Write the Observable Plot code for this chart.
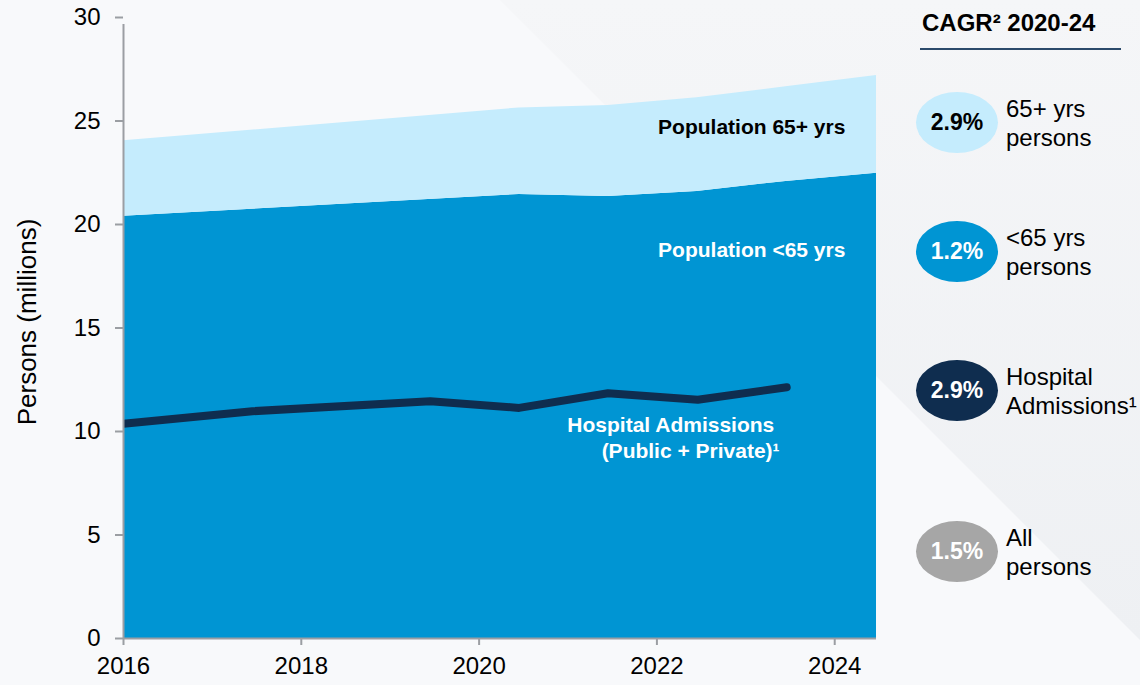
<!DOCTYPE html>
<html>
<head>
<meta charset="utf-8">
<script src="https://cdn.jsdelivr.net/npm/d3@7"></script>
<script src="https://cdn.jsdelivr.net/npm/@observablehq/plot@0.6"></script>
<style>
  html, body { margin: 0; padding: 0; }
  body { width: 1140px; height: 685px; overflow: hidden; background: #f8f9fb;
         font-family: "Liberation Sans", Arial, sans-serif; }
  #wrap { position: relative; width: 1140px; height: 685px; }
  #bg, #chart { position: absolute; left: 0; top: 0; }
  #panel-title { position: absolute; left: 922px; top: 9px; font-size: 24px; font-weight: bold; color: #000; white-space: nowrap; }
  #panel-rule { position: absolute; left: 920px; top: 48px; width: 201px; height: 2px; background: #2b4a6b; }
  .item { position: absolute; left: 916px; height: 61px; display: flex; align-items: center; }
  .ell { width: 82px; height: 61px; border-radius: 50%; display: flex; align-items: center; justify-content: center;
         font-size: 23px; font-weight: bold; }
  .lab { margin-left: 8px; font-size: 24px; line-height: 29px; color: #000; white-space: nowrap; }
</style>
</head>
<body>
<div id="wrap">
  <svg id="bg" width="1140" height="685">
    <defs>
      <linearGradient id="g" x1="0" y1="0" x2="0" y2="640" gradientUnits="userSpaceOnUse">
        <stop offset="0" stop-color="#f5f6f8"/>
        <stop offset="1" stop-color="#eef0f3"/>
      </linearGradient>
    </defs>
    <polygon points="500,0 1140,0 1140,640" fill="url(#g)"/>
  </svg>
  <div id="chart"></div>
  <div id="panel-title">CAGR² 2020-24</div>
  <div id="panel-rule"></div>
  <div id="panel"></div>
</div>
<script>
// ---- data ----
const areaYears  = [2016, 2020.45, 2021.45, 2022.45, 2023.45, 2024.47];
const popUnder65 = [20.4, 21.45, 21.35, 21.6, 22.08, 22.48];
const pop65Plus  = [3.64, 4.18, 4.4, 4.52, 4.57, 4.72];

const hospYears  = [2016, 2017.45, 2019.45, 2020.45, 2021.45, 2022.46, 2023.46];
const hospAdmits = [10.37, 10.98, 11.46, 11.14, 11.85, 11.53, 12.14];

const xTicks = [2016, 2018, 2020, 2022, 2024];
const yTicks = [0, 5, 10, 15, 20, 25, 30];

const cagrValues = ["2.9%", "1.2%", "2.9%", "1.5%"];
const cagrLabels = [["65+ yrs", "persons"], ["<65 yrs", "persons"], ["Hospital", "Admissions¹"], ["All", "persons"]];

// ---- styles ----
const blue = "#0095d3", light = "#c5ecfd", navy = "#0f2d4f", grey = "#a6a6a6", axisGrey = "#9b9ea3";
const cagrFill = [light, blue, navy, grey];
const cagrText = ["#000", "#fff", "#fff", "#fff"];
const cagrTop = [92, 221, 360, 521];

const rows = [];
areaYears.forEach((yr, i) => rows.push({year: yr, group: "<65", value: popUnder65[i]}));
areaYears.forEach((yr, i) => rows.push({year: yr, group: "65+", value: pop65Plus[i]}));
const hospRows = hospYears.map((yr, i) => ({year: yr, value: hospAdmits[i]}));

const chart = Plot.plot({
  width: 1140, height: 685,
  marginLeft: 123, marginRight: 264, marginTop: 17, marginBottom: 47,
  x: {domain: [2016, 2024.47], axis: null},
  y: {domain: [0, 30], axis: null},
  color: {domain: ["<65", "65+"], range: [blue, light]},
  style: {background: "transparent", fontFamily: "'Liberation Sans', Arial, sans-serif", fontSize: "24px", color: "#000", overflow: "visible"},
  marks: [
    Plot.areaY(rows, {x: "year", y: "value", fill: "group"}),
    Plot.line(hospRows, {x: "year", y: "value", stroke: navy, strokeWidth: 8, strokeLinecap: "round", strokeLinejoin: "round", clip: true}),
    Plot.ruleX([2016], {y1: 0, y2: 30, stroke: axisGrey, strokeWidth: 2, insetBottom: -7}),
    Plot.ruleY([0], {x1: 2016, x2: 2024.47, stroke: axisGrey, strokeWidth: 2}),
    Plot.axisY({ticks: yTicks, tickSize: 8, tickPadding: 15, stroke: axisGrey, strokeWidth: 2, fill: "#000", label: null, fontSize: 24}),
    Plot.axisX({ticks: xTicks, tickFormat: d => String(d), tickSize: 7, tickPadding: 11, stroke: axisGrey, strokeWidth: 2, fill: "#000", label: null, fontSize: 24}),
    Plot.text(["Persons (millions)"], {frameAnchor: "left", textAnchor: "middle", rotate: -90, dx: -96, dy: -6, fontSize: 26, fill: "#000"}),
    Plot.text(["Population 65+ yrs"], {x: 2024.12, y: 24.7, textAnchor: "end", fontWeight: "bold", fontSize: 21, fill: "#000"}),
    Plot.text(["Population <65 yrs"], {x: 2024.12, y: 18.74, textAnchor: "end", fontWeight: "bold", fontSize: 21, fill: "#fff"}),
    Plot.text(["Hospital Admissions"], {x: 2023.32, y: 10.29, textAnchor: "end", fontWeight: "bold", fontSize: 21, fill: "#fff"}),
    Plot.text(["(Public + Private)¹"], {x: 2023.38, y: 9.03, textAnchor: "end", fontWeight: "bold", fontSize: 21, fill: "#fff"})
  ]
});
document.getElementById("chart").appendChild(chart);

const panel = document.getElementById("panel");
cagrValues.forEach((v, i) => {
  const item = document.createElement("div");
  item.className = "item";
  item.style.top = cagrTop[i] + "px";
  const e = document.createElement("div");
  e.className = "ell";
  e.style.background = cagrFill[i];
  e.style.color = cagrText[i];
  e.textContent = v;
  const l = document.createElement("div");
  l.className = "lab";
  l.innerHTML = cagrLabels[i].map(s => s.replace(/&/g, "&amp;").replace(/</g, "&lt;")).join("<br>");
  item.appendChild(e);
  item.appendChild(l);
  panel.appendChild(item);
});
</script>
</body>
</html>
